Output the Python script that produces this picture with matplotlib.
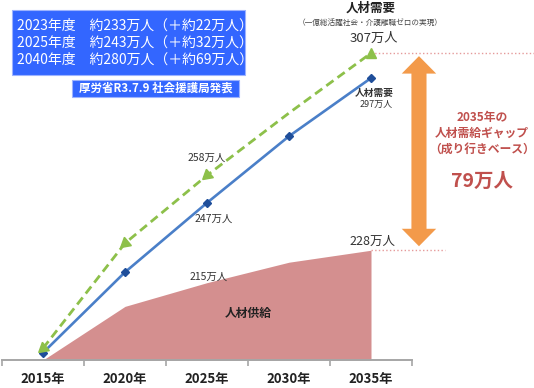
import matplotlib
matplotlib.use("Agg")
import matplotlib.pyplot as plt
import matplotlib.patches as mpatches
import numpy as np

plt.rcParams['font.family'] = ['Noto Sans CJK JP', 'DejaVu Sans']

# chart data (万人)
years = ['2015年', '2020年', '2025年', '2030年', '2035年']
demand_high = [188.7, 230.8, 258, 283, 307]   # 人材需要（一億総活躍社会・介護離職ゼロの実現）
demand = [186.9, 219.2, 247, 273.7, 297]      # 人材需要（成り行き）
supply = [184, 205.5, 215, 223.2, 228]        # 人材供給
box_lines = [
    '2023年度　約233万人（＋約22万人）',
    '2025年度　約243万人（＋約32万人）',
    '2040年度　約280万人（＋約69万人）',
]
source_note = '厚労省R3.7.9 社会援護局発表'

W, H = 534, 388
fig = plt.figure(figsize=(W / 100, H / 100), dpi=100)
fig.patch.set_facecolor('white')


def fx(x):
    return x / W


def fy(y):
    return 1 - y / H


ax = fig.add_axes([fx(2), 28 / H, 410 / W, 360 / H])
x = np.arange(len(years))
ax.set_xlim(-0.5, 4.5)
ax.set_ylim(184, 328.3)

# supply area
ax.fill_between(x, supply[0], supply, color='#D48F8F', lw=0, zorder=1)

# demand (blue)
ax.plot(x, demand, color='#4A7FC8', lw=1.9, zorder=3)
ax.plot(x, demand, ls='none', marker='D', ms=4.5, color='#1F4E9A', zorder=4)

# demand high (green dashed)
ax.plot(x, demand_high, color='#8DC04A', lw=2, dashes=(3.2, 1.8), zorder=3)
for i in [0, 1, 2]:
    ax.plot(x[i], demand_high[i], ls='none', marker=(3, 0, 130), ms=9,
            color='#8DC04A', zorder=4)
ax.plot(x[4], demand_high[4], ls='none', marker='^', ms=7, color='#8DC04A', zorder=4)

# axis styling
for s in ['top', 'right', 'left']:
    ax.spines[s].set_visible(False)
ax.spines['bottom'].set_color('#A6A6A6')
ax.spines['bottom'].set_linewidth(1.4)
ax.set_yticks([])
ax.set_xticks(x)
ax.set_xticklabels(years, fontsize=9.5, fontweight='bold', color='#222222')
ax.set_xticks(np.arange(-0.5, 5, 1), minor=True)
ax.tick_params(axis='x', which='major', length=0, pad=9)
ax.tick_params(axis='x', which='minor', length=4, width=1.2, color='#A6A6A6', direction='out')

# value labels
lab = dict(textcoords='offset pixels', ha='center', va='center', color='#333333')
ax.annotate('258万人', (x[2], demand_high[2]), xytext=(0, 18), fontsize=7.5, **lab)
ax.annotate('247万人', (x[2], demand[2]), xytext=(7, -16), fontsize=7.5, **lab)
ax.annotate('215万人', (x[2], supply[2]), xytext=(2, 6), fontsize=7.5, **lab)
ax.annotate('228万人', (x[4], supply[4]), xytext=(1, 9), fontsize=9, **lab)
ax.annotate('307万人', (x[4], demand_high[4]), xytext=(3, 15), fontsize=9.5, **lab)
ax.annotate('人材需要', (x[4], demand[4]), xytext=(3, -15), fontsize=7,
            fontweight='bold', **lab)
ax.annotate('297万人', (x[4], demand[4]), xytext=(5, -26), fontsize=6.5, **lab)
ax.text(x[2] + 0.5, 202.7, '人材供給', ha='center', va='center', fontsize=8.5,
        fontweight='bold', color='#222222', zorder=5)

# dotted reference lines at 2035 levels
ax.plot([x[4], 5.99], [demand_high[4]] * 2, ls=':', lw=1, color='#E59A9A', clip_on=False)
ax.plot([x[4], 4.9], [supply[4]] * 2, ls=':', lw=1, color='#E59A9A', clip_on=False)

# orange double arrow showing the gap
cx = 4.585
top = demand_high[4] - 1.2
bot = supply[4] + 1.6
hl, hw, sw = 7.0, 0.21, 0.092
arrow = mpatches.Polygon([
    (cx, top), (cx + hw, top - hl), (cx + sw, top - hl), (cx + sw, bot + hl),
    (cx + hw, bot + hl), (cx, bot), (cx - hw, bot + hl), (cx - sw, bot + hl),
    (cx - sw, top - hl), (cx - hw, top - hl)], closed=True,
    facecolor='#F39A4A', edgecolor='none', clip_on=False, zorder=2)
ax.add_patch(arrow)

gap = demand_high[4] - supply[4]
red = '#C0504D'
fig.text(fx(482), fy(118), '2035年の', ha='center', va='center', fontsize=8.5,
         fontweight='bold', color=red)
fig.text(fx(482), fy(133), '人材需給ギャップ', ha='center', va='center', fontsize=8.5,
         fontweight='bold', color=red)
fig.text(fx(482), fy(149), '（成り行きベース）', ha='center', va='center', fontsize=8.5,
         fontweight='bold', color=red)
fig.text(fx(482), fy(181), f'{gap}万人', ha='center', va='center', fontsize=14,
         fontweight='bold', color=red)

# top-right title
fig.text(fx(371), fy(8), '人材需要', ha='center', va='center', fontsize=9,
         fontweight='bold', color='#222222')
fig.text(fx(370), fy(23), '（一億総活躍社会・介護離職ゼロの実現）', ha='center', va='center',
         fontsize=5.5, color='#444444')

# blue info boxes
blue = '#3366FF'
fig.patches.append(mpatches.Rectangle((fx(12), fy(75)), 233 / W, 65 / H,
                                      transform=fig.transFigure, facecolor=blue,
                                      edgecolor='#9DB3FF', lw=0.8))
for i, line in enumerate(box_lines):
    fig.text(fx(17), fy(26 + 17 * i), line, ha='left', va='center', fontsize=10,
             color='white')
fig.patches.append(mpatches.Rectangle((fx(72), fy(97)), 167 / W, 17 / H,
                                      transform=fig.transFigure, facecolor=blue,
                                      edgecolor='#9DB3FF', lw=0.8))
fig.text(fx(156), fy(88.5), source_note, ha='center', va='center', fontsize=8.3,
         fontweight='bold', color='white')

fig.savefig('out.png', dpi=100, facecolor='white')
